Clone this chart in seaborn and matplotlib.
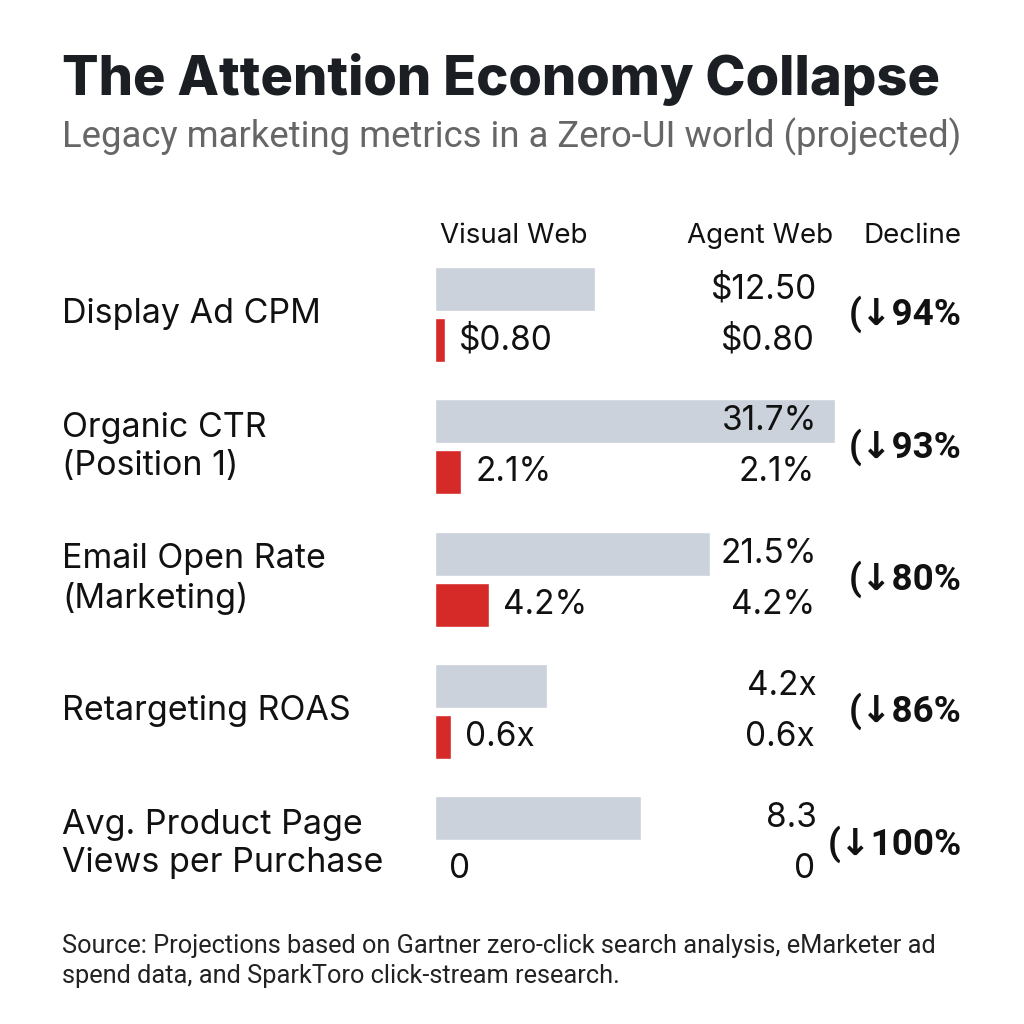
import matplotlib
matplotlib.use("Agg")
import matplotlib.pyplot as plt
import matplotlib.transforms as mtransforms
import seaborn as sns
import pandas as pd

metrics = [
    "Display Ad CPM",
    "Organic CTR\n(Position 1)",
    "Email Open Rate\n(Marketing)",
    "Retargeting ROAS",
    "Avg. Product Page\nViews per Purchase",
]
visual_web = [12.50, 31.7, 21.5, 4.2, 8.3]
agent_web = [0.80, 2.1, 4.2, 0.6, 0.0]
visual_labels = ["$12.50", "31.7%", "21.5%", "4.2x", "8.3"]
agent_labels = ["$0.80", "2.1%", "4.2%", "0.6x", "0"]
declines = ["(↓94%", "(↓93%", "(↓80%", "(↓86%", "(↓100%"]
# the reference scales each row on its own axis
row_scale = [31.3, 31.7, 31.3, 15.0, 16.1]

GREY = "#cbd2dc"
RED = "#d62a28"
INK = "#111111"

sns.set_theme(style="white")
plt.rcParams["font.family"] = ["Inter", "DejaVu Sans"]

W = H = 1024
fig = plt.figure(figsize=(10.24, 10.24), dpi=100)
fig.patch.set_facecolor("white")

def fy(px):
    return 1 - px / H

fig.text(62 / W, fy(95), "The Attention Economy Collapse", fontsize=39,
         fontweight="heavy", color="#1b1f24", va="baseline")
fig.text(62 / W, fy(147), "Legacy marketing metrics in a Zero-UI world (projected)",
         fontsize=26.3, color="#666666", va="baseline", family=["Roboto", "DejaVu Sans"])

fig.text(514 / W, fy(243), "Visual Web", fontsize=20, ha="center", va="baseline", color=INK)
fig.text(760 / W, fy(243), "Agent Web", fontsize=20, ha="center", va="baseline", color=INK)
fig.text(913 / W, fy(243), "Decline", fontsize=20, ha="center", va="baseline", color=INK)

left, width = 435, 400
row_h = 102
first_top = 263.5
step = 132.3

for i, name in enumerate(metrics):
    top = first_top + i * step
    ax = fig.add_axes([left / W, fy(top + row_h), width / W, row_h / H])
    df = pd.DataFrame({"web": ["Visual Web", "Agent Web"],
                       "value": [visual_web[i], agent_web[i]]})
    sns.barplot(data=df, x="value", y="web", hue="web", palette=[GREY, RED],
                width=0.86, saturation=1, legend=False, ax=ax)
    ax.set_xlim(0, row_scale[i])
    ax.set_ylim(1.5, -0.5)
    ax.axis("off")

    tr = mtransforms.blended_transform_factory(ax.transAxes, ax.transData)
    ax.text((62 - left) / width, 0.5, name, transform=tr, ha="left", va="center",
            fontsize=24.5, color=INK, linespacing=1.25)
    ax.text((817 - left) / width, 0, visual_labels[i], transform=tr, ha="right",
            va="center", fontsize=24, color=INK)
    ax.text((815 - left) / width, 1, agent_labels[i], transform=tr, ha="right",
            va="center", fontsize=24, color=INK)
    ax.annotate(agent_labels[i], xy=(agent_web[i], 1), xytext=(10, 0),
                textcoords="offset points", ha="left", va="center",
                fontsize=24, color=INK)
    ax.text((962 - left) / width, 0.5, declines[i], transform=tr, ha="right",
            va="center", fontsize=26.5, fontweight="bold", color=INK,
            family=["Roboto", "DejaVu Sans"])

fig.text(62 / W, fy(953),
         "Source: Projections based on Gartner zero-click search analysis, eMarketer ad",
         fontsize=18.3, color="#222222", va="baseline", family=["Roboto", "DejaVu Sans"])
fig.text(62 / W, fy(983), "spend data, and SparkToro click-stream research.",
         fontsize=18.3, color="#222222", va="baseline", family=["Roboto", "DejaVu Sans"])

fig.savefig("out.png", dpi=100, facecolor="white")
